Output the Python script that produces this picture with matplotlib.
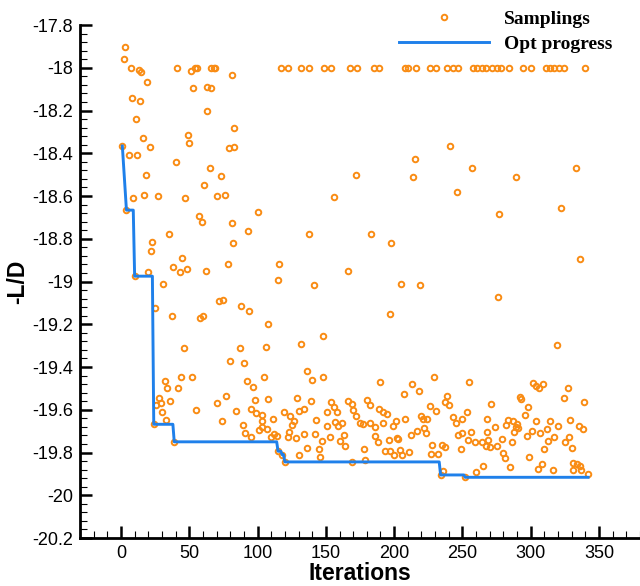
import matplotlib
matplotlib.use("Agg")
import matplotlib.pyplot as plt
from matplotlib.ticker import MultipleLocator, FormatStrFormatter

plt.rcParams['axes.unicode_minus'] = False
plt.rcParams['font.family'] = ['Liberation Sans', 'DejaVu Sans']

# Samplings in chunks of iterations
iters1 = [1, 2, 3, 4, 6, 7, 8, 9, 10, 11, 12, 13, 14, 15, 16, 17, 18, 19, 20, 21,
          22, 23, 24, 25, 26, 27, 28, 29, 30, 31, 32, 33, 34, 35, 36, 37, 38, 39, 40, 41,
          42, 43, 44, 45, 46, 47, 48, 49, 50, 51, 52, 53, 54, 55, 56, 57, 58, 59, 60]
vals1 = [-18.366, -17.96, -17.905, -18.666, -18.41, -18.0, -18.14, -18.61, -18.975, -18.24,
         -18.41, -18.01, -18.155, -18.02, -18.33, -18.595, -18.5, -18.065, -18.956, -18.37,
         -18.855, -18.815, -19.668, -19.124, -19.58, -18.6, -19.545, -19.57, -19.61, -19.01,
         -19.465, -19.65, -19.5, -18.78, -19.557, -19.16, -18.93, -19.75, -18.44, -18.0,
         -19.5, -18.956, -19.447, -18.89, -19.31, -18.61, -18.94, -18.313, -18.353, -18.015,
         -19.447, -18.093, -18.0, -19.6, -18.0, -18.693, -19.173, -18.722, -19.16]

iters2 = [61, 62, 63, 63, 65, 66, 66, 68, 69, 70, 70, 72, 73, 74, 75, 76, 77, 78, 79, 80,
          81, 81, 82, 83, 83, 84, 87, 88, 89, 90, 91, 92, 93, 94, 95, 95, 97, 98, 99, 100,
          101, 103, 103, 103, 105, 106, 107, 108, 108, 110, 111, 112, 114, 115, 115, 116, 117, 118, 119, 120]
vals2 = [-18.55, -18.95, -18.2, -18.09, -18.47, -18.0, -18.095, -18.0, -18.0, -18.6,
         -19.568, -19.09, -18.506, -19.654, -19.085, -18.597, -19.535, -18.92, -18.377, -19.37,
         -18.727, -18.035, -18.818, -18.283, -18.372, -19.604, -19.31, -19.114, -19.673, -19.38,
         -19.708, -19.467, -18.763, -19.14, -19.727, -19.595, -19.494, -19.556, -19.615, -18.673,
         -19.696, -19.626, -19.682, -19.654, -19.445, -19.307, -19.69, -19.551, -19.2, -19.727,
         -19.643, -19.712, -19.724, -19.794, -18.995, -18.917, -18.0, -19.81, -19.612, -19.844]

iters3 = [122, 122, 123, 124, 125, 127, 128, 129, 130, 130, 132, 132, 134, 134, 136, 136, 138, 138, 139, 140,
          141, 142, 143, 145, 146, 147, 148, 148, 149, 151, 151, 153, 154, 154, 156, 156, 157, 158, 159, 160,
          162, 163, 164, 166, 166, 168, 169, 169, 170, 172, 172, 173, 175, 177, 178, 179, 180]
vals3 = [-18.0, -19.729, -19.706, -19.63, -19.67, -19.651, -19.732, -19.547, -19.81, -19.607,
         -19.293, -18.0, -19.596, -19.713, -19.779, -19.417, -18.776, -18.0, -19.557, -19.459,
         -19.014, -19.713, -19.65, -19.783, -19.822, -19.748, -19.447, -19.257, -18.0, -19.612,
         -19.676, -19.729, -19.564, -18.0, -18.603, -19.587, -19.657, -19.61, -19.678, -19.744,
         -19.662, -19.716, -19.771, -18.95, -19.557, -18.0, -19.573, -19.846, -19.6, -19.627,
         -18.504, -18.0, -19.662, -19.665, -19.782, -19.836, -19.556]

iters4 = [182, 182, 183, 185, 186, 186, 188, 189, 189, 190, 192, 192, 193, 195, 196, 197, 197, 198, 199, 200,
          201, 202, 203, 204, 205, 206, 207, 208, 208, 210, 211, 212, 213, 214, 215, 216, 217, 218, 219, 220,
          221, 222, 223, 224, 226, 226, 227, 228, 229, 231, 231, 232, 234, 235, 236, 237, 237, 239, 239, 240]
vals4 = [-19.662, -19.58, -18.78, -18.0, -19.68, -19.724, -19.752, -19.596, -18.0, -19.47,
         -19.612, -19.662, -19.794, -19.621, -19.743, -19.794, -19.15, -18.82, -19.678, -19.81,
         -19.654, -19.732, -19.735, -19.79, -19.012, -19.81, -19.525, -19.643, -18.0, -18.0,
         -19.797, -19.72, -19.478, -18.51, -18.425, -18.0, -19.7, -19.512, -19.015, -19.631,
         -19.643, -19.685, -19.708, -19.643, -19.584, -18.0, -19.807, -19.763, -19.447, -19.604,
         -18.0, -19.807, -19.907, -19.766, -19.888, -19.774, -19.563, -19.534, -18.0, -19.576]

iters5 = [241, 243, 243, 245, 246, 247, 247, 249, 250, 250, 252, 253, 254, 255, 256, 257, 258, 259, 260, 261,
          264, 264, 265, 267, 267, 268, 268, 269, 270, 271, 272, 274, 275, 275, 276, 277, 278, 279, 280, 281,
          282, 283, 284, 285, 286, 287, 288, 289, 289, 290, 291, 292, 293, 294, 296, 297, 298, 299, 300]
vals5 = [-18.366, -19.636, -18.0, -19.662, -18.58, -19.716, -18.0, -19.782, -19.643, -19.708,
         -19.916, -19.61, -19.74, -19.47, -19.704, -18.47, -18.0, -19.75, -19.893, -18.0,
         -19.752, -18.0, -19.865, -19.77, -18.0, -19.704, -19.643, -19.74, -19.774, -19.573,
         -18.0, -19.68, -19.768, -18.0, -19.073, -18.685, -18.0, -19.736, -19.802, -19.828,
         -19.673, -19.646, -18.0, -19.869, -19.752, -19.654, -19.706, -18.51, -19.68, -19.666,
         -19.685, -19.539, -19.548, -18.0, -19.623, -19.724, -19.587, -19.822, -18.0]

iters6 = [301, 302, 304, 304, 305, 306, 307, 308, 309, 310, 311, 312, 313, 314, 314, 316, 317, 317, 319, 320,
          321, 322, 324, 324, 325, 327, 328, 329, 330, 331, 331, 333, 334, 335, 336, 336, 337, 338, 339, 340, 342]
vals6 = [-19.698, -19.475, -19.487, -19.654, -19.877, -19.5, -19.708, -19.853, -19.479, -19.782,
         -18.0, -19.69, -19.748, -19.651, -18.0, -19.88, -19.726, -18.0, -19.296, -19.674,
         -18.0, -18.656, -19.545, -18.0, -19.749, -19.5, -19.729, -19.65, -19.78, -19.88,
         -19.849, -18.467, -19.853, -19.674, -18.895, -19.864, -19.88, -19.688, -19.565, -18.0, -19.899]

# best-so-far curve
opt_iter = [1, 4, 9, 10, 23, 24, 38, 39, 114, 115, 117, 118, 119, 120, 233, 234, 251, 252, 342]
opt_val = [-18.366, -18.666, -18.666, -18.975, -18.975, -19.668, -19.668, -19.75, -19.75,
           -19.794, -19.794, -19.81, -19.81, -19.844, -19.844, -19.905, -19.905, -19.916, -19.916]

sample_iter = iters1 + iters2 + iters3 + iters4 + iters5 + iters6
sample_val = vals1 + vals2 + vals3 + vals4 + vals5 + vals6

orange = '#f98c14'
blue = '#1f80ea'

fig = plt.figure(figsize=(6.4, 5.86), dpi=100)
ax = fig.add_axes([0.125, 0.0819, 0.875, 0.8754])

ax.plot(sample_iter, sample_val, linestyle='none', marker='o', ms=4.0, mew=1.4,
        mfc='none', mec=orange, label='Samplings', zorder=2)
ax.plot(opt_iter, opt_val, color=blue, lw=2.1, label='Opt progress', zorder=3)

ax.set_xlim(-30, 380)
ax.set_ylim(-20.2, -17.8)
ax.xaxis.set_major_locator(MultipleLocator(50))
ax.xaxis.set_minor_locator(MultipleLocator(10))
ax.yaxis.set_major_locator(MultipleLocator(0.2))
ax.yaxis.set_minor_locator(MultipleLocator(0.04))
ax.yaxis.set_major_formatter(FormatStrFormatter('%g'))
ax.xaxis.set_major_formatter(FormatStrFormatter('%g'))

for s in ['top', 'right']:
    ax.spines[s].set_visible(False)
for s in ['left', 'bottom']:
    ax.spines[s].set_linewidth(2.0)

ax.tick_params(which='major', direction='in', length=8.5, width=1.8, labelsize=13, pad=5)
ax.tick_params(which='minor', direction='in', length=5, width=0.8)

ax.set_xlabel('Iterations', fontsize=16.5, fontweight='bold', labelpad=0)
ax.set_ylabel('-L/D', fontsize=16.5, fontweight='bold', labelpad=2)

ax.legend(loc='upper right', bbox_to_anchor=(0.957, 0.982), bbox_transform=fig.transFigure,
          frameon=False, borderpad=0, borderaxespad=0, handlelength=4.6, labelspacing=0.35,
          prop={'family': 'Liberation Serif', 'weight': 'bold', 'size': 14})

fig.savefig('out.png', dpi=100)
